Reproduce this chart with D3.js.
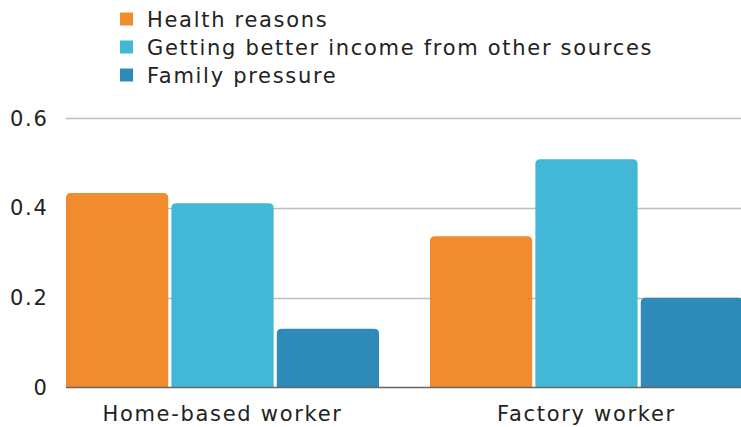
<!DOCTYPE html>
<html>
<head>
<meta charset="utf-8">
<script src="https://cdn.jsdelivr.net/npm/d3@7"></script>
<style>
  html, body { margin: 0; padding: 0; background: #fff; }
  svg { display: block; }
  text { font-family: "DejaVu Sans", "Noto Sans", sans-serif; fill: #222; font-size: 21px; letter-spacing: 1.7px; }
</style>
</head>
<body>
<svg id="chart" width="741" height="427"></svg>
<script>
// Worker groups along the x axis
const categories = ["Home-based worker", "Factory worker"];
// Reasons (one bar per reason in each group)
const seriesNames = ["Health reasons", "Getting better income from other sources", "Family pressure"];
const healthReasons = [0.433, 0.337];
const betterIncome = [0.41, 0.508];
const familyPressure = [0.131, 0.2];
const yTicks = [0, 0.2, 0.4, 0.6];
const colors = ["#F08C2E", "#42B7D6", "#2E8AB8"];

const seriesValues = [healthReasons, betterIncome, familyPressure];

const svg = d3.select("#chart");
const W = 741, H = 427;
const margin = { left: 66, right: -2, top: 118, bottom: 39.5 };

const x0 = d3.scaleBand()
  .domain(categories)
  .range([margin.left, W - margin.right])
  .paddingInner(0.14)
  .paddingOuter(0);

const x1 = d3.scaleBand()
  .domain(seriesNames)
  .range([0, x0.bandwidth()])
  .paddingInner(0.03)
  .paddingOuter(0);

const y = d3.scaleLinear()
  .domain([0, 0.6])
  .range([H - margin.bottom, margin.top]);

// Gridlines
svg.append("g")
  .selectAll("line")
  .data(yTicks.filter(d => d > 0))
  .join("line")
  .attr("x1", margin.left)
  .attr("x2", W)
  .attr("y1", d => Math.round(y(d)) + 0.5)
  .attr("y2", d => Math.round(y(d)) + 0.5)
  .attr("stroke", "#bdbdbd")
  .attr("stroke-width", 1.5);

// Y tick labels
svg.append("g")
  .selectAll("text")
  .data(yTicks)
  .join("text")
  .attr("x", 48.5)
  .attr("y", d => y(d))
  .attr("dy", "0.36em")
  .attr("text-anchor", "end")
  .text(d => d === 0 ? "0" : d3.format(".1f")(d));

// Bars with rounded top corners
function barPath(x, yTop, w, h, r) {
  r = Math.min(r, h, w / 2);
  return `M${x},${yTop + h}V${yTop + r}Q${x},${yTop} ${x + r},${yTop}` +
         `H${x + w - r}Q${x + w},${yTop} ${x + w},${yTop + r}V${yTop + h}Z`;
}

const groups = svg.append("g")
  .selectAll("g")
  .data(categories)
  .join("g")
  .attr("transform", d => `translate(${x0(d)},0)`);

groups.selectAll("path")
  .data((c, ci) => seriesNames.map((s, si) => ({ s, si, v: seriesValues[si][ci] })))
  .join("path")
  .attr("d", d => barPath(x1(d.s), y(d.v), x1.bandwidth(), y(0) - y(d.v), 5))
  .attr("fill", d => colors[d.si]);

// Baseline
svg.append("line")
  .attr("x1", margin.left)
  .attr("x2", W)
  .attr("y1", y(0))
  .attr("y2", y(0))
  .attr("stroke", "#666")
  .attr("stroke-width", 1.5);

// X axis labels
svg.append("g")
  .selectAll("text")
  .data(categories)
  .join("text")
  .attr("x", d => x0(d) + x0.bandwidth() / 2)
  .attr("y", 413)
  .attr("dy", "0.36em")
  .attr("text-anchor", "middle")
  .text(d => d);

// Legend
const legend = svg.append("g")
  .selectAll("g")
  .data(seriesNames)
  .join("g")
  .attr("transform", (d, i) => `translate(120,${19 + i * 28})`);

legend.append("rect")
  .attr("x", 0)
  .attr("y", -6.5)
  .attr("width", 13)
  .attr("height", 13)
  .attr("fill", (d, i) => colors[i]);

legend.append("text")
  .attr("x", 27)
  .attr("y", 0)
  .attr("dy", "0.36em")
  .text(d => d);
</script>
</body>
</html>
